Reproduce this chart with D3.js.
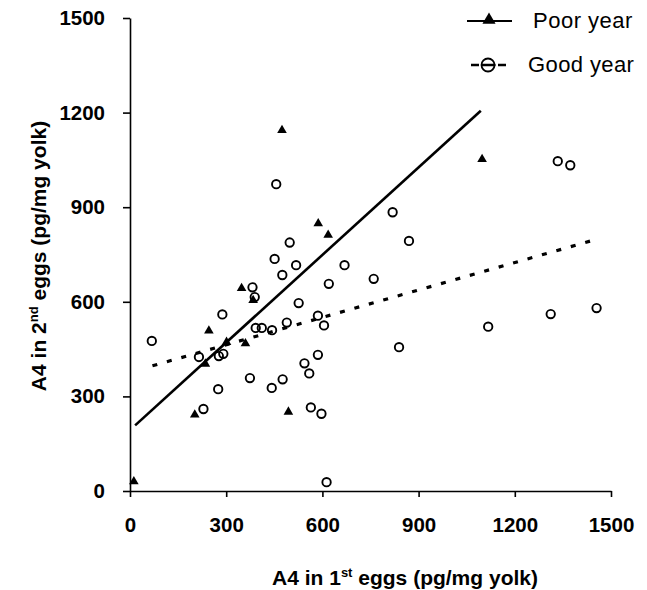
<!DOCTYPE html>
<html>
<head>
<meta charset="utf-8">
<script src="https://cdn.jsdelivr.net/npm/d3@7"></script>
<style>
  body { margin: 0; background: #fff; }
  svg { font-family: "Liberation Sans", Arial, sans-serif; }
  .axis text { font-family: "Liberation Sans", Arial, sans-serif; font-size: 20.5px; font-weight: bold; fill: #000; }
  .axis path, .axis line { stroke: #000; stroke-width: 1.6; }
</style>
</head>
<body>
<div id="chart"></div>
<script>
// Good year (open circles)
const goodX = [68, 215, 277, 291, 288, 275, 229, 382, 389, 392, 411, 443, 374, 442, 476, 451, 475, 498, 518, 489,
  526, 544, 559, 586, 586, 605, 620, 564, 597, 613, 669, 760, 456, 819, 870, 1334, 1373, 839, 1117, 1312, 1455];
const goodY = [476, 425, 428, 435, 560, 323, 260, 646, 615, 517, 517, 510, 358, 327, 354, 736, 685, 788, 716, 534,
  596, 405, 373, 432, 556, 525, 657, 265, 245, 28, 716, 673, 973, 884, 793, 1046, 1033, 456, 521, 561, 580];
// Poor year (filled triangles)
const poorX = [12, 202, 235, 246, 348, 384, 360, 301, 494, 474, 587, 618, 1098];
const poorY = [30, 242, 403, 508, 643, 605, 468, 472, 251, 1144, 848, 812, 1052];
// regression lines (end points)
const poorFitX = [16, 1094];
const poorFitY = [208, 1206];
const goodFitX = [70, 1440];
const goodFitY = [397, 794];
const ticks = [0, 300, 600, 900, 1200, 1500];

const width = 647, height = 590;
const svg = d3.select("#chart").append("svg")
  .attr("width", width)
  .attr("height", height);

const x = d3.scaleLinear().domain([0, 1500]).range([130, 611]);
const y = d3.scaleLinear().domain([0, 1500]).range([491, 18]);

svg.append("g")
  .attr("class", "axis")
  .attr("transform", "translate(0,491)")
  .call(d3.axisBottom(x).tickValues(ticks).tickFormat(d3.format("d"))
    .tickSize(6).tickPadding(20).tickSizeOuter(0));
svg.append("g")
  .attr("class", "axis")
  .attr("transform", "translate(130,0)")
  .call(d3.axisLeft(y).tickValues(ticks).tickFormat(d3.format("d"))
    .tickSize(7).tickPadding(18).tickSizeOuter(0));

// fit lines
const line = d3.line().x(d => x(d[0])).y(d => y(d[1]));
svg.append("path")
  .attr("d", line(d3.zip(poorFitX, poorFitY)))
  .attr("fill", "none").attr("stroke", "#000").attr("stroke-width", 2.6);
svg.append("path")
  .attr("d", line(d3.zip(goodFitX, goodFitY)))
  .attr("fill", "none").attr("stroke", "#000").attr("stroke-width", 3.2)
  .attr("stroke-dasharray", "5,10");

// points
svg.append("g").selectAll("circle")
  .data(d3.zip(goodX, goodY))
  .enter().append("circle")
  .attr("cx", d => x(d[0]))
  .attr("cy", d => y(d[1]))
  .attr("r", 4.2)
  .attr("fill", "none")
  .attr("stroke", "#000")
  .attr("stroke-width", 1.9);

const tri = d3.symbol().type(d3.symbolTriangle).size(40);
svg.append("g").selectAll("path")
  .data(d3.zip(poorX, poorY))
  .enter().append("path")
  .attr("d", tri)
  .attr("transform", d => "translate(" + x(d[0]) + "," + y(d[1]) + ")")
  .attr("fill", "#000");

// legend
const leg = svg.append("g");
leg.append("line").attr("x1", 467).attr("x2", 512).attr("y1", 21).attr("y2", 21)
  .attr("stroke", "#000").attr("stroke-width", 2);
leg.append("path").attr("d", d3.symbol().type(d3.symbolTriangle).size(75))
  .attr("transform", "translate(489,20)").attr("fill", "#000");
leg.append("text").attr("x", 533).attr("y", 28).text("Poor year")
  .attr("font-size", 22).attr("letter-spacing", 0.5);

leg.append("line").attr("x1", 471).attr("x2", 506).attr("y1", 65).attr("y2", 65)
  .attr("stroke", "#000").attr("stroke-width", 2.6).attr("stroke-dasharray", "8,2.5,14,2.5,8");
leg.append("circle").attr("cx", 488).attr("cy", 65).attr("r", 6.5)
  .attr("fill", "none").attr("stroke", "#000").attr("stroke-width", 1.8);
leg.append("text").attr("x", 528).attr("y", 72).text("Good year")
  .attr("font-size", 22).attr("letter-spacing", 0.4);

// axis titles
const xt = svg.append("text")
  .attr("x", 405).attr("y", 585)
  .attr("text-anchor", "middle")
  .attr("font-size", 21).attr("font-weight", "bold");
xt.append("tspan").text("A4 in 1");
xt.append("tspan").text("st").attr("font-size", 13).attr("dy", -8);
xt.append("tspan").text(" eggs (pg/mg yolk)").attr("dy", 8);

const yt = svg.append("text")
  .attr("transform", "translate(46,256) rotate(-90)")
  .attr("text-anchor", "middle")
  .attr("font-size", 21).attr("font-weight", "bold");
yt.append("tspan").text("A4 in 2");
yt.append("tspan").text("nd").attr("font-size", 13).attr("dy", -8);
yt.append("tspan").text(" eggs (pg/mg yolk)").attr("dy", 8);
</script>
</body>
</html>
